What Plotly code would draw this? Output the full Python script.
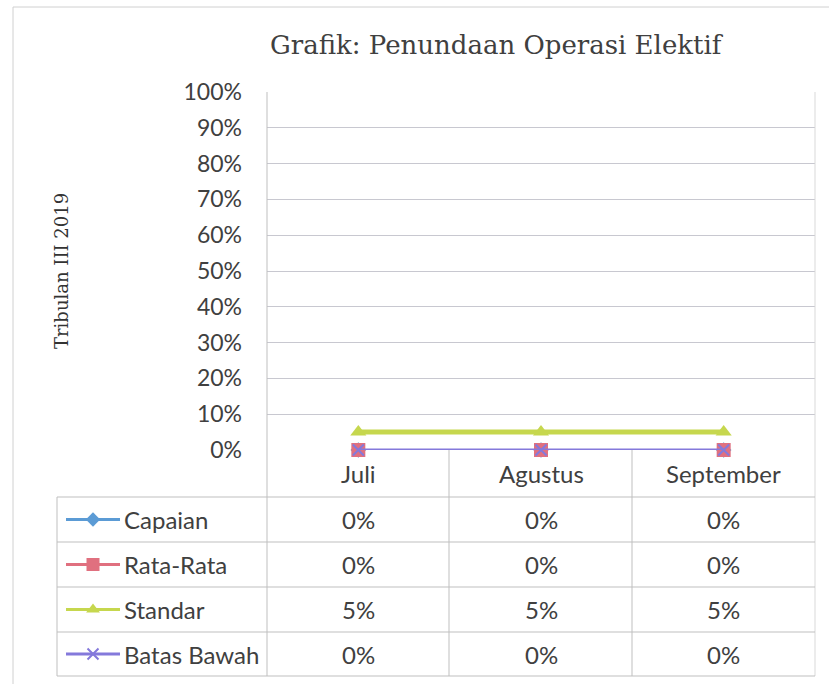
import plotly.graph_objects as go

categories = ["Juli", "Agustus", "September"]
series_names = ["Capaian", "Rata-Rata", "Standar", "Batas Bawah"]
capaian = [0, 0, 0]
rata_rata = [0, 0, 0]
standar = [5, 5, 5]
batas_bawah = [0, 0, 0]
y_ticks = [0, 10, 20, 30, 40, 50, 60, 70, 80, 90, 100]
y_tick_labels = [f"{v}%" for v in y_ticks]

series_values = [capaian, rata_rata, standar, batas_bawah]
colors = ["#5B9BD5", "#E0707F", "#C6D74E", "#8479DB"]
symbols = ["diamond", "square", "triangle-up", "x-thin"]
msizes = [12, 14, 14, 11]
key_sizes = [11, 13, 12, 11]
lwidths = [2, 2, 5, 3]

W, H = 829, 687
ML, MR, MT, MB = 13, 14, 7, 10
PW = W - ML - MR
PH = H - MT - MB


def px(x):
    return (x - ML) / PW


def py(y):
    return (H - MB - y) / PH


plot_l, plot_r, plot_t, plot_b = 267, 815, 92, 450
row_lines = [497, 542, 587, 632, 676]
tab_l = 57
col_lines = [449, 632]

fig = go.Figure()

for name, vals, c, s, ms, lw in zip(series_names, series_values, colors, symbols, msizes, lwidths):
    fig.add_trace(go.Scatter(
        x=categories, y=vals, mode="lines+markers", name=name,
        line=dict(color=c, width=lw),
        marker=dict(symbol=s, size=ms, color=c,
                    line=dict(color=c, width=2 if s == "x-thin" else 0)),
        xaxis="x", yaxis="y", showlegend=False, cliponaxis=False,
    ))

for i, (name, c, s, ks) in enumerate(zip(series_names, colors, symbols, key_sizes)):
    yc = (row_lines[i] + row_lines[i + 1]) / 2
    fig.add_trace(go.Scatter(
        x=[66, 120], y=[yc, yc], mode="lines",
        line=dict(color=c, width=3), xaxis="x2", yaxis="y2",
        showlegend=False, hoverinfo="skip"))
    fig.add_trace(go.Scatter(
        x=[93], y=[yc], mode="markers",
        marker=dict(symbol=s, size=ks, color=c,
                    line=dict(color=c, width=2 if s == "x-thin" else 0)),
        xaxis="x2", yaxis="y2", showlegend=False, hoverinfo="skip"))

shapes = []
lc = "#bfbfbf"
shapes.append(dict(type="line", xref="paper", yref="paper", x0=px(13), x1=px(829), y0=py(7), y1=py(7),
                   line=dict(color="#d0d0d0", width=1)))
shapes.append(dict(type="line", xref="paper", yref="paper", x0=px(13), x1=px(13), y0=py(7), y1=py(684),
                   line=dict(color="#d0d0d0", width=1)))
shapes.append(dict(type="line", xref="paper", yref="paper", x0=px(plot_l), x1=px(plot_l), y0=py(plot_t), y1=py(row_lines[-1]),
                   line=dict(color=lc, width=1)))
shapes.append(dict(type="line", xref="paper", yref="paper", x0=px(plot_r), x1=px(plot_r), y0=py(plot_t), y1=py(row_lines[-1]),
                   line=dict(color="#d9d9d9", width=1)))
for cx in col_lines:
    shapes.append(dict(type="line", xref="paper", yref="paper", x0=px(cx), x1=px(cx), y0=py(plot_b), y1=py(row_lines[-1]),
                       line=dict(color=lc, width=1)))
shapes.append(dict(type="line", xref="paper", yref="paper", x0=px(tab_l), x1=px(tab_l), y0=py(row_lines[0]), y1=py(row_lines[-1]),
                   line=dict(color=lc, width=1)))
for ry in row_lines:
    shapes.append(dict(type="line", xref="paper", yref="paper", x0=px(tab_l), x1=px(plot_r), y0=py(ry), y1=py(ry),
                       line=dict(color=lc, width=1)))

annotations = []
tick_font = dict(family="Lato, 'Open Sans', sans-serif", size=23, color="#404040")
tf = dict(family="Lato, 'Open Sans', sans-serif", size=24, color="#404040")
for cat in categories:
    annotations.append(dict(x=cat, y=py((plot_b + row_lines[0]) / 2), xref="x", yref="paper",
                            text=cat, showarrow=False, font=tf, xanchor="center", yanchor="middle"))
for i, (name, vals) in enumerate(zip(series_names, series_values)):
    yc = py((row_lines[i] + row_lines[i + 1]) / 2)
    annotations.append(dict(x=px(122), y=yc, xref="paper", yref="paper", text=name, showarrow=False,
                            font=tf, xanchor="left", yanchor="middle"))
    for cat, v in zip(categories, vals):
        annotations.append(dict(x=cat, y=yc, xref="x", yref="paper", text=f"{v}%", showarrow=False,
                                font=tf, xanchor="center", yanchor="middle"))
annotations.append(dict(x=px(61), y=py(271), xref="paper", yref="paper", text="Tribulan III 2019",
                        textangle=-90, showarrow=False,
                        font=dict(family="'DejaVu Serif', serif", size=18, color="#333333"),
                        xanchor="center", yanchor="middle"))
annotations.append(dict(x=px(497), y=py(45), xref="paper", yref="paper",
                        text="Grafik: Penundaan Operasi Elektif", showarrow=False,
                        font=dict(family="'DejaVu Serif', serif", size=26, color="#404040"),
                        xanchor="center", yanchor="middle"))

fig.update_layout(
    width=W, height=H,
    margin=dict(l=ML, r=MR, t=MT, b=MB, autoexpand=False),
    paper_bgcolor="white", plot_bgcolor="white",
    xaxis=dict(domain=[px(plot_l), px(plot_r)], anchor="y", type="category",
               categoryarray=categories, range=[-0.5, 2.5],
               showticklabels=False, showgrid=False, zeroline=False, showline=False, fixedrange=True),
    yaxis=dict(domain=[py(plot_b), py(plot_t)], anchor="x", range=[0, 100],
               tickvals=y_ticks, ticktext=y_tick_labels, tickfont=tick_font, automargin=False,
               showgrid=True, gridcolor="#c8c8d0", gridwidth=1, zeroline=False,
               showline=False, ticks="", ticklabelstandoff=24, fixedrange=True),
    xaxis2=dict(domain=[px(tab_l), px(plot_l)], anchor="y2", range=[tab_l, plot_l],
                visible=False, fixedrange=True),
    yaxis2=dict(domain=[py(row_lines[-1]), py(row_lines[0])], anchor="x2",
                range=[row_lines[-1], row_lines[0]], visible=False, fixedrange=True),
    shapes=shapes, annotations=annotations,
    showlegend=False,
)

fig.write_html("out.html", config={"displayModeBar": False},
               post_script="document.body.style.margin='0';document.body.style.overflow='hidden';")
